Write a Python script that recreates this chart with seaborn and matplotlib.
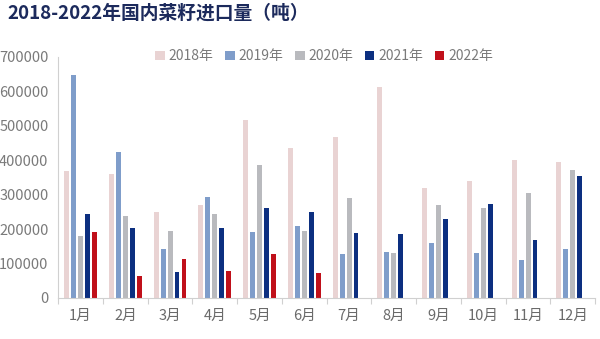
import numpy as np
import pandas as pd
import matplotlib
matplotlib.use("Agg")
import matplotlib.pyplot as plt
from matplotlib.ticker import FixedLocator
import seaborn as sns

months = ["1月", "2月", "3月", "4月", "5月", "6月", "7月", "8月", "9月", "10月", "11月", "12月"]
years = ["2018年", "2019年", "2020年", "2021年", "2022年"]
v2018 = [370000, 360000, 249000, 270000, 516000, 435000, 468000, 612000, 319000, 339000, 402000, 395000]
v2019 = [648000, 425000, 143000, 292000, 193000, 210000, 127000, 134000, 161000, 130000, 110000, 143000]
v2020 = [180000, 239000, 195000, 245000, 385000, 195000, 289000, 130000, 270000, 262000, 306000, 372000]
v2021 = [243000, 203000, 75000, 203000, 262000, 250000, 188000, 185000, 228000, 274000, 168000, 355000]
v2022 = [193000, 65000, 113000, 78000, 127000, 72000, np.nan, np.nan, np.nan, np.nan, np.nan, np.nan]
yticks = [0, 100000, 200000, 300000, 400000, 500000, 600000, 700000]
title = "2018-2022年国内菜籽进口量（吨）"

colors = ["#e9d3d3", "#7f9dca", "#b9babe", "#0c2f80", "#c0101a"]

rows = []
for y, vals in zip(years, [v2018, v2019, v2020, v2021, v2022]):
    for m, v in zip(months, vals):
        rows.append({"month": m, "year": y, "value": v})
df = pd.DataFrame(rows).dropna()

sns.set_theme(style="white")
plt.rcParams["font.family"] = ["Noto Sans CJK SC", "DejaVu Sans"]

fig = plt.figure(figsize=(6.0, 3.39), dpi=100)
ax = fig.add_axes([0.097, 0.121, 0.895, 0.711])

sns.barplot(data=df, x="month", y="value", hue="year", order=months, hue_order=years,
            palette=colors, width=0.78, gap=0.3, ax=ax, errorbar=None, saturation=1,
            linewidth=0)

ax.set_ylim(0, 700000)
ax.set_xlim(-0.5, 11.5)
ax.set_yticks(yticks)
ax.set_yticklabels([str(t) for t in yticks], fontsize=10.5, color="#7a7a7a")
ax.set_xticks(range(len(months)))
ax.set_xticklabels(months, fontsize=10.5, color="#6a6a6a")
ax.xaxis.set_minor_locator(FixedLocator(np.arange(-0.5, 12.0, 1.0)))
ax.tick_params(axis="x", which="major", length=0, pad=8)
ax.tick_params(axis="x", which="minor", length=4, color="#d0d0d0", width=0.8, bottom=True)
ax.tick_params(axis="y", length=0, pad=7)
ax.set_xlabel("")
ax.set_ylabel("")
for s in ["top", "right"]:
    ax.spines[s].set_visible(False)
for s in ["left", "bottom"]:
    ax.spines[s].set_color("#d0d0d0")
    ax.spines[s].set_linewidth(0.8)

leg = ax.legend(loc="upper left", bbox_to_anchor=(0.17, 1.055), ncol=5, frameon=False,
                fontsize=10, handlelength=0.7, handleheight=0.7, handletextpad=0.3,
                columnspacing=0.8, borderaxespad=0)
for t in leg.get_texts():
    t.set_color("#7a7a7a")

fig.text(0.012, 0.962, title, fontsize=13.5, fontweight="bold", color="#1c2a5c", va="center", ha="left")

fig.savefig("out.png", dpi=100)
